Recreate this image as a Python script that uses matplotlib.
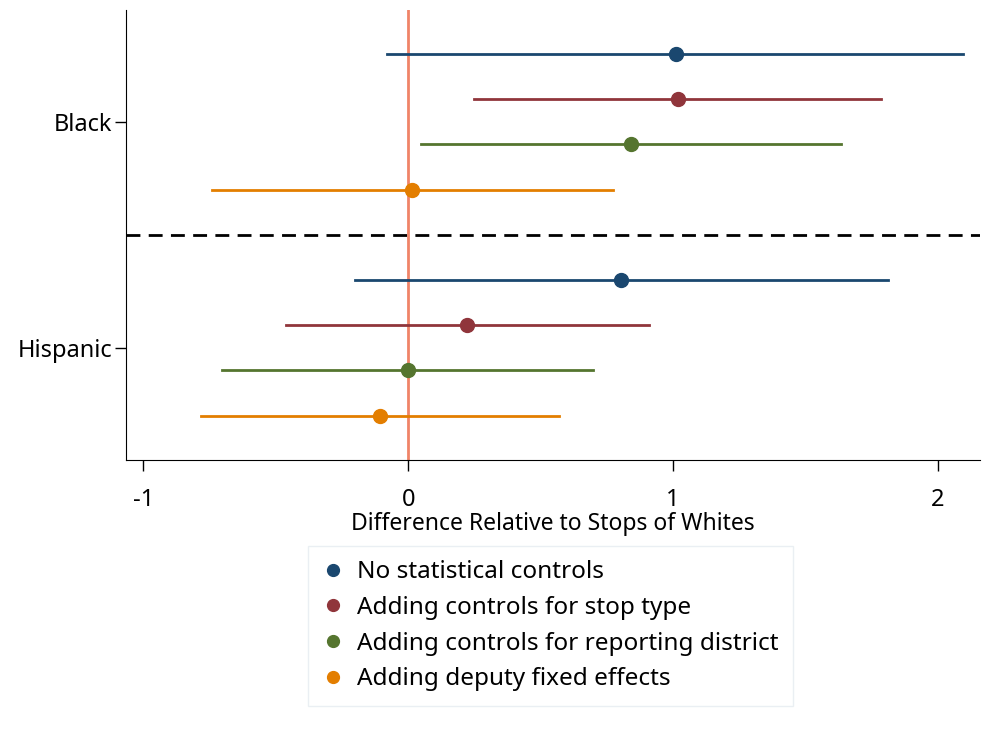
import matplotlib.pyplot as plt

plt.rcParams['font.family'] = ['Noto Sans', 'DejaVu Sans']

# groups and models
groups = ["Black", "Hispanic"]
models = ["No statistical controls", "Adding controls for stop type",
          "Adding controls for reporting district", "Adding deputy fixed effects"]
colors = ["#1a476f", "#90353b", "#55752f", "#e37e00"]

# point estimates and confidence intervals (per group, per model)
black_est = [1.01, 1.02, 0.84, 0.015]
black_lo = [-0.08, 0.25, 0.05, -0.74]
black_hi = [2.096, 1.787, 1.636, 0.773]

hisp_est = [0.805, 0.223, 0.0, -0.107]
hisp_lo = [-0.20, -0.461, -0.703, -0.783]
hisp_hi = [1.812, 0.911, 0.699, 0.570]

fig = plt.figure(figsize=(9.94, 7.38), dpi=100)
ax = fig.add_axes([0.127, 0.377, 0.859, 0.609])

handles = []
for i in range(4):
    yb = i
    yh = 5 + i
    ax.plot([black_lo[i], black_hi[i]], [yb, yb], color=colors[i], lw=2, zorder=2)
    ax.plot([hisp_lo[i], hisp_hi[i]], [yh, yh], color=colors[i], lw=2, zorder=2)
    h, = ax.plot([black_est[i], hisp_est[i]], [yb, yh], 'o', color=colors[i],
                 markersize=10, zorder=3, label=models[i])
    handles.append(h)

# reference lines
ax.axvline(0, color="#f08468", lw=2, zorder=1)
ax.axhline(4, color="black", lw=2, ls=(0, (5, 3)), zorder=1)

ax.set_xlim(-1.065, 2.16)
ax.set_ylim(8.98, -0.97)
ax.set_yticks([1.5, 6.5])
ax.set_yticklabels(groups)
ax.set_xticks([-1, 0, 1, 2])
ax.set_xticklabels(["-1", "0", "1", "2"])
ax.tick_params(axis='both', labelsize=17, length=8, width=1, direction='out')
ax.tick_params(axis='x', pad=12)
ax.tick_params(axis='y', pad=2)
ax.set_xlabel("Difference Relative to Stops of Whites", fontsize=16.5, labelpad=0)

for s in ["top", "right"]:
    ax.spines[s].set_visible(False)

leg = fig.legend(handles=handles, loc='upper center', bbox_to_anchor=(0.554, 0.277),
                 fontsize=17.5, frameon=True, fancybox=False, handlelength=0.8,
                 handletextpad=0.6, labelspacing=0.48, borderpad=0.6,
                 markerscale=0.85)
leg.get_frame().set_edgecolor("#e5ecf0")
leg.get_frame().set_linewidth(1)

plt.savefig("out.png", dpi=100)
